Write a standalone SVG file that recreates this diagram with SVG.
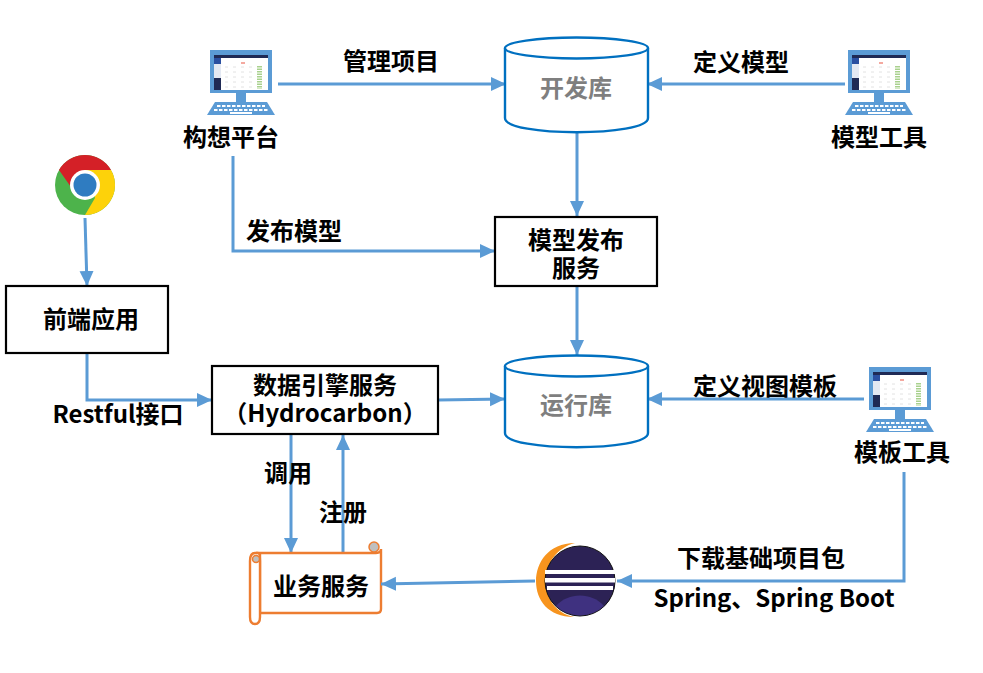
<svg xmlns="http://www.w3.org/2000/svg" width="983" height="673" viewBox="0 0 983 673">
<style>
text{font-family:"Noto Sans CJK SC","Liberation Sans",sans-serif;font-weight:700;font-size:24px;fill:#000;text-anchor:middle}
.db{fill:#fff;stroke:#0070c0;stroke-width:2.4}
text.dbt{fill:#7f7f7f}
.box{fill:#fff;stroke:#000;stroke-width:2.2}
.c{fill:none;stroke:#5b9bd5;stroke-width:3;marker-end:url(#a)}
.sc{fill:#fff;stroke:#ed7d31;stroke-width:2.4}
</style>
<defs>
<marker id="a" markerUnits="userSpaceOnUse" markerWidth="16" markerHeight="16" refX="15" refY="8" orient="auto"><path d="M0 1L15 8L0 15z" fill="#5b9bd5"/></marker>
<g id="pc">
<rect x="-31" y="0" width="62" height="43" fill="#5b9bd5"/>
<rect x="-27" y="5" width="54" height="35" fill="#fff"/>
<rect x="-27" y="5" width="54" height="3" fill="#1f2a55"/>
<rect x="-27" y="8" width="7" height="32" fill="#e3e8f2"/>
<rect x="-27" y="8" width="7" height="6" fill="#2a4fa0"/>
<rect x="-27" y="28" width="7" height="12" fill="#1f2a55"/>
<path d="M18.500 16V39" stroke="#a9d18e" stroke-width="5" stroke-dasharray="1.500 1"/>
<rect x="0" y="12" width="4" height="2" fill="#f4a9a0"/>
<path d="M-16 17H12M-16 22H12M-16 27H12M-16 32H12M-16 37H12" stroke="#e2e2e2" stroke-width="1" stroke-dasharray="3 5"/>
<rect x="-5" y="43" width="10" height="9" fill="#5b9bd5"/>
<path d="M-26 52H26L34 65H-34z" fill="#5b9bd5"/>
<path d="M-24 56H24M-27 60H27" stroke="#fff" stroke-width="2" stroke-dasharray="3.500 1.500"/>
<rect x="-11" y="62" width="22" height="2" fill="#fff"/>
</g>
</defs>
<rect width="983" height="673" fill="#fff"/>
<g id="connectors">
<path class="c" d="M278 84H506"/>
<path class="c" d="M845 84H647"/>
<path class="c" d="M577 129V216"/>
<path class="c" d="M233 156V251H495"/>
<path class="c" d="M577 287V355"/>
<path class="c" d="M85 218L87 286"/>
<path class="c" d="M87 354V400H212"/>
<path class="c" d="M438 400L505 399"/>
<path class="c" d="M864 399H647"/>
<path class="c" d="M291 435V553"/>
<path class="c" d="M343 553V435"/>
<path class="c" d="M904 472V581H617"/>
</g>
<g id="n-goujian"><use href="#pc" x="241" y="50"/><text x="231" y="146">构想平台</text></g>
<g id="n-devdb"><path class="db" d="M505 48V118C505 137 648 137 648 118V48"/><ellipse class="db" cx="576.500" cy="48" rx="71.500" ry="10.500"/><text class="dbt" x="576" y="97">开发库</text></g>
<g id="n-modeltool"><use href="#pc" x="879" y="50"/><text x="879" y="146">模型工具</text></g>
<g id="n-chrome">
<circle cx="85" cy="185" r="30" fill="#4db34b"/>
<path d="M59 170A30 30 0 0 1 111 170H85L73 190z" fill="#d42027"/>
<path d="M111 170A30 30 0 0 1 85 215L95 198L85 170z" fill="#fdd20a"/>
<circle cx="85" cy="185" r="15" fill="#fff"/><circle cx="85" cy="185" r="11.500" fill="#2f7cc1"/>
</g>
<g id="n-publish"><rect class="box" x="495" y="217" width="162" height="69"/><text x="576" y="249">模型发布<tspan x="576" dy="28">服务</tspan></text></g>
<g id="n-frontend"><rect class="box" x="6" y="286" width="162" height="67"/><text x="91" y="328">前端应用</text></g>
<g id="n-engine"><rect class="box" x="212" y="366" width="226" height="68"/><text x="325" y="394">数据引擎服务<tspan x="325" dy="28">（Hydrocarbon）</tspan></text></g>
<g id="n-rundb"><path class="db" d="M505 366V433C505 452 648 452 648 433V366"/><ellipse class="db" cx="576.500" cy="366" rx="71.500" ry="10.500"/><text class="dbt" x="576" y="414">运行库</text></g>
<g id="n-tpltool"><use href="#pc" x="900" y="367"/><text x="902" y="461">模板工具</text></g>
<g id="n-biz">
<path class="sc" d="M256 553H376Q381 553 381 549V609Q381 613 377 613H260V553z"/>
<path class="sc" d="M250 561Q250 553 255 553H258Q260 553 260 561V617Q260 624 255 624Q250 624 250 617z"/>
<circle cx="256" cy="559" r="3.500" fill="#bfbfbf" stroke="#ed7d31" stroke-width="1.500"/>
<circle cx="374" cy="547" r="5" fill="#bfbfbf" stroke="#ed7d31" stroke-width="1.500"/>
<text x="321" y="595">业务服务</text>
</g>
<g id="n-eclipse">
<path d="M575 543C548 543 536 563 536 581C536 600 548 617 574 617C555 613 546 598 546 581C546 564 556 548 575 543z" fill="#f7941e"/>
<circle cx="580" cy="581" r="35" fill="#2c2255" stroke="#111" stroke-width="1"/>
<path d="M556 606A35 35 0 0 0 604 606C592 592 568 592 556 606z" fill="#3f3180"/>
<rect x="545" y="570" width="70" height="4" fill="#fff"/>
<rect x="545" y="578" width="70" height="4.500" fill="#fff"/>
<rect x="547" y="586" width="66" height="4" fill="#fff"/>
</g>
<g id="connector-top"><path class="c" d="M535 581L381 584"/></g>
<g id="labels">
<text x="391" y="70">管理项目</text>
<text x="741" y="71">定义模型</text>
<text x="294" y="240">发布模型</text>
<text x="118" y="423">Restful接口</text>
<text x="765" y="395">定义视图模板</text>
<text x="288" y="482">调用</text>
<text x="343" y="521">注册</text>
<text x="761" y="567">下载基础项目包</text>
<text x="774" y="607">Spring、Spring Boot</text>
</g>
</svg>
